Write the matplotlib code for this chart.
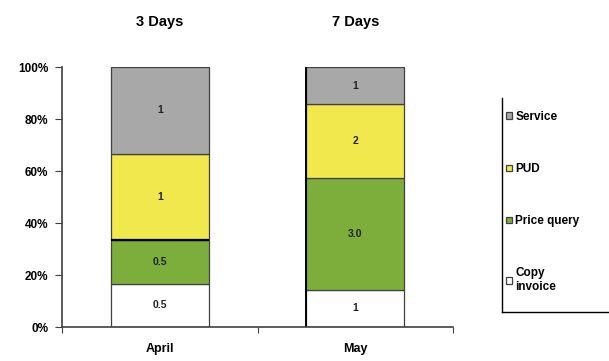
import numpy as np
import matplotlib
matplotlib.use("Agg")
import matplotlib.pyplot as plt
from matplotlib.lines import Line2D

# Counts per request type, stacked bottom to top
months = ["April", "May"]
periods = ["3 Days", "7 Days"]
series = ["Copy\ninvoice", "Price query", "PUD", "Service"]
copy_invoice = [0.5, 1]
price_query = [0.5, 3.0]
pud = [1, 2]
service = [1, 1]
value_labels = [["0.5", "1"], ["0.5", "3.0"], ["1", "2"], ["1", "1"]]
colors = ["#FFFFFF", "#7DAE3C", "#F0E84C", "#A8A8A8"]

plt.rcParams['font.family'] = ['Liberation Sans', 'DejaVu Sans']

data = np.array([copy_invoice, price_query, pud, service], dtype=float)
shares = data / data.sum(axis=0) * 100

fig = plt.figure(figsize=(6.09, 3.61), dpi=100)
ax = fig.add_axes([62 / 609, 34 / 361, 391 / 609, 260 / 361])

x = np.arange(len(months))
bottom = np.zeros(len(months))
handles = []
for i, name in enumerate(series):
    bars = ax.bar(x, shares[i], 0.5, bottom=bottom, color=colors[i],
                  edgecolor="#404040", linewidth=0.9)
    handles.append(bars)
    for j in range(len(months)):
        ax.text(x[j], bottom[j] + shares[i][j] / 2, value_labels[i][j],
                ha="center", va="center", fontsize=7.5, fontweight="bold", color="#222222")
    bottom += shares[i]

# heavier line between the price query and PUD segments in April
ax.hlines(shares[0][0] + shares[1][0], x[0] - 0.25, x[0] + 0.25, color="black", linewidth=1.6)
# heavier left edge of the May bar
ax.vlines(x[1] - 0.25, 0, 100, color="black", linewidth=1.4)

ax.set_xlim(-0.5, 1.5)
ax.set_ylim(0, 100)
ax.set_yticks(np.arange(0, 101, 20))
ax.set_yticklabels([f"{v}%" for v in range(0, 101, 20)], fontsize=8.5, fontweight="bold")
ax.set_xticks([-0.5, 0.5, 1.5])
ax.set_xticklabels([])
ax.tick_params(axis="x", length=4, color="#404040")
ax.tick_params(axis="y", length=5, color="#404040", pad=5)
for j, m in enumerate(months):
    ax.text(x[j], -6, m, ha="center", va="top", fontsize=9, fontweight="bold", clip_on=False)
    ax.text(x[j], 114.5, periods[j], ha="center", va="bottom", fontsize=10.5,
            fontweight="bold", clip_on=False)

for side in ["top", "right"]:
    ax.spines[side].set_visible(False)
for side in ["left", "bottom"]:
    ax.spines[side].set_color("#404040")
    ax.spines[side].set_linewidth(1.2)

labels = ["Service", "PUD", "Price query", "Copy\ninvoice"]
leg = fig.legend(handles[::-1], labels, loc="upper left",
                 bbox_to_anchor=(506 / 609, 250 / 361), frameon=False,
                 fontsize=8.5, handlelength=0.5, handleheight=0.5, handletextpad=0.3,
                 labelspacing=3.4, borderpad=0, borderaxespad=0)
for t in leg.get_texts():
    t.set_fontweight("bold")

# legend box: only its left and bottom edges fall inside the figure
fig.add_artist(Line2D([502 / 609, 502 / 609], [1 - 98 / 361, 1 - 312 / 361],
                      color="black", linewidth=1.0))
fig.add_artist(Line2D([502 / 609, 1.0], [1 - 312 / 361, 1 - 312 / 361],
                      color="black", linewidth=1.0))

fig.savefig("out.png", dpi=100)
